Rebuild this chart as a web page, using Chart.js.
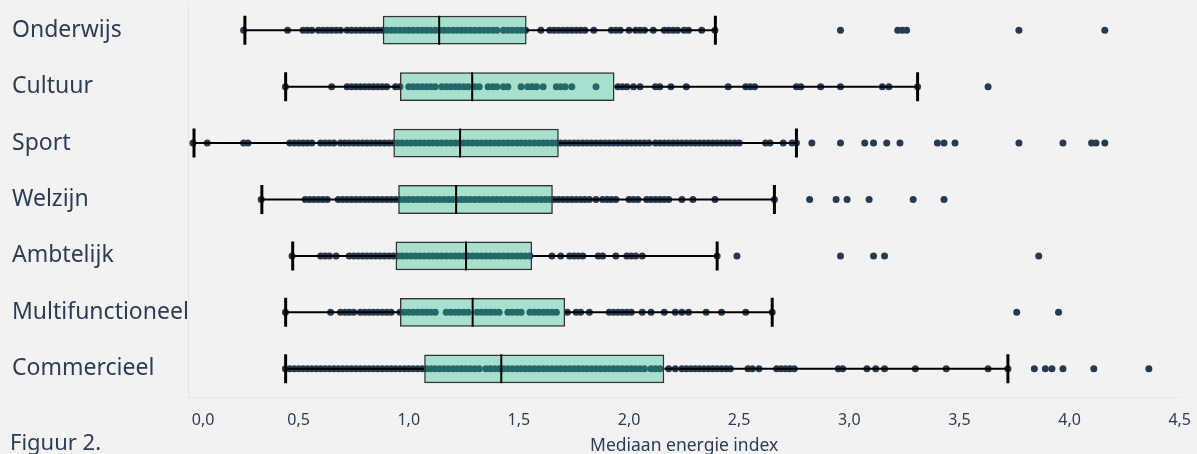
<!DOCTYPE html>
<html>
<head>
<meta charset="utf-8">
<script src="https://cdn.jsdelivr.net/npm/chart.js@4.4.0/dist/chart.umd.min.js"></script>
<style>
  html, body { margin: 0; padding: 0; background: #f2f2f2; }
  #wrap { position: relative; width: 1197px; height: 454px; overflow: hidden; }
  #figuur { position: absolute; left: 10px; top: 426px; font: 22px 'Noto Sans'; color: #2c3e55; white-space: nowrap; }
</style>
</head>
<body>
<div id="wrap">
  <canvas id="boxplot" width="1197" height="454"></canvas>
  <div id="figuur">Figuur 2.</div>
</div>
<script>
// categorieen van boven naar beneden
const categories = ['Onderwijs', 'Cultuur', 'Sport', 'Welzijn', 'Ambtelijk', 'Multifunctioneel', 'Commercieel'];

const whiskerLow  = [0.256, 0.441, 0.025, 0.333, 0.473, 0.441, 0.441];
const q1          = [0.882, 0.960, 0.930, 0.952, 0.940, 0.960, 1.070];
const median      = [1.138, 1.288, 1.233, 1.215, 1.260, 1.290, 1.420];
const q3          = [1.535, 1.934, 1.681, 1.654, 1.560, 1.710, 2.160];
const whiskerHigh = [2.392, 3.310, 2.760, 2.660, 2.400, 2.650, 3.720];

// losse punten per categorie
const pointsOnderwijs = [0.25, 0.45, 0.52, 0.54, 0.56, 0.59, 0.61, 0.63, 0.65, 0.67, 0.69, 0.72, 0.74, 0.76, 0.78, 0.80, 0.82, 0.84, 0.86, 0.88,
  0.90, 0.92, 0.94, 0.96, 0.98, 1.00, 1.02, 1.04, 1.06, 1.08, 1.10, 1.12, 1.14, 1.16, 1.18, 1.20, 1.22, 1.24, 1.26, 1.28, 1.30, 1.32, 1.34, 1.36, 1.38, 1.40,
  1.43, 1.45, 1.47, 1.49, 1.51, 1.53, 1.60, 1.64, 1.66, 1.68, 1.70, 1.72, 1.74, 1.76, 1.78, 1.80, 1.84, 1.92, 1.94, 1.96, 2.00, 2.03, 2.05, 2.07, 2.11,
  2.16, 2.18, 2.20, 2.22, 2.25, 2.27, 2.33, 2.39, 2.96, 3.22, 3.24, 3.26, 3.77, 4.16];
const pointsCultuur = [0.44, 0.65, 0.72, 0.74, 0.76, 0.78, 0.80, 0.82, 0.84, 0.86, 0.88, 0.90, 0.94, 0.96, 1.00, 1.02, 1.04, 1.06, 1.08, 1.10, 1.12,
  1.15, 1.17, 1.19, 1.21, 1.23, 1.25, 1.27, 1.30, 1.32, 1.36, 1.38, 1.40, 1.43, 1.45, 1.51, 1.54, 1.56, 1.58, 1.61, 1.67, 1.69, 1.71, 1.74, 1.85,
  1.95, 1.97, 1.99, 2.02, 2.05, 2.12, 2.14, 2.19, 2.26, 2.45, 2.53, 2.55, 2.57, 2.76, 2.78, 2.87, 2.96, 3.15, 3.18, 3.31, 3.63];
const pointsSport = [0.02, 0.085, 0.25, 0.27, 0.46, 0.48, 0.50, 0.52, 0.54, 0.56, 0.60, 0.62, 0.64, 0.66,
  0.69, 0.71, 0.73, 0.75, 0.77, 0.79, 0.81, 0.83, 0.85, 0.87, 0.89, 0.91, 0.93,
  0.95, 0.97, 0.99, 1.01, 1.03, 1.05, 1.07, 1.09, 1.11, 1.13, 1.15, 1.17, 1.19, 1.21, 1.23, 1.25, 1.27, 1.29, 1.31, 1.33, 1.35, 1.37, 1.39,
  1.41, 1.43, 1.45, 1.47, 1.49, 1.51, 1.53, 1.55, 1.57, 1.59, 1.61, 1.63, 1.65, 1.67,
  1.69, 1.71, 1.73, 1.75, 1.77, 1.79, 1.81, 1.83, 1.85, 1.87, 1.89, 1.91, 1.93, 1.95, 1.97, 1.99, 2.01, 2.03, 2.05, 2.07, 2.09,
  2.12, 2.14, 2.16, 2.18, 2.20, 2.22, 2.24, 2.26, 2.28, 2.30, 2.32, 2.34, 2.36, 2.38, 2.40, 2.42, 2.44, 2.46, 2.48, 2.50,
  2.62, 2.64, 2.70, 2.74, 2.76, 2.83, 2.96, 3.07, 3.11, 3.17, 3.23, 3.40, 3.43, 3.48, 3.77, 3.97, 4.10, 4.12, 4.16];
const pointsWelzijn = [0.33, 0.53, 0.55, 0.57, 0.59, 0.61, 0.63, 0.68, 0.70, 0.72, 0.74, 0.76, 0.78, 0.80, 0.82, 0.84, 0.86, 0.88, 0.90, 0.92, 0.94, 0.96,
  0.98, 1.00, 1.02, 1.04, 1.06, 1.08, 1.10, 1.12, 1.14, 1.16, 1.18, 1.20, 1.22, 1.24, 1.26, 1.28, 1.30, 1.32, 1.34, 1.36, 1.38, 1.40,
  1.42, 1.44, 1.46, 1.48, 1.50, 1.52, 1.54, 1.56, 1.58, 1.60, 1.62, 1.64,
  1.66, 1.68, 1.70, 1.72, 1.74, 1.76, 1.78, 1.80, 1.82, 1.85, 1.88, 1.90, 1.92, 1.94, 2.00, 2.02, 2.04, 2.08, 2.10, 2.12, 2.14, 2.16, 2.18,
  2.24, 2.29, 2.39, 2.66, 2.82, 2.94, 2.99, 3.09, 3.29, 3.43];
const pointsAmbtelijk = [0.47, 0.60, 0.62, 0.64, 0.67, 0.73, 0.75, 0.77, 0.79, 0.81, 0.83, 0.85, 0.87, 0.89, 0.91, 0.93,
  0.95, 0.97, 0.99, 1.01, 1.03, 1.05, 1.07, 1.09, 1.11, 1.13, 1.15, 1.17, 1.19, 1.21, 1.23, 1.25, 1.27, 1.29, 1.31, 1.33, 1.35, 1.37, 1.39,
  1.41, 1.43, 1.45, 1.47, 1.49, 1.51, 1.53, 1.55,
  1.65, 1.69, 1.73, 1.75, 1.77, 1.79, 1.86, 1.88, 1.94, 1.99, 2.01, 2.03, 2.06, 2.40, 2.49, 2.96, 3.11, 3.16, 3.86];
const pointsMultifunctioneel = [0.44, 0.645, 0.69, 0.71, 0.73, 0.75, 0.78, 0.80, 0.82, 0.84, 0.86, 0.88, 0.90, 0.92,
  0.96, 0.98, 1.00, 1.02, 1.04, 1.06, 1.08, 1.10, 1.12, 1.17, 1.19, 1.21, 1.23, 1.25, 1.27, 1.31, 1.33, 1.35, 1.37, 1.39, 1.41,
  1.45, 1.47, 1.49, 1.51, 1.55, 1.57, 1.59, 1.61, 1.63, 1.65, 1.67, 1.72,
  1.76, 1.78, 1.82, 1.91, 1.93, 1.95, 1.97, 1.99, 2.01, 2.06, 2.10, 2.16, 2.21, 2.24, 2.27, 2.35, 2.42, 2.53, 2.65, 3.76, 3.95];
const pointsCommercieel = [0.44, 0.46, 0.48, 0.50, 0.52, 0.54, 0.56, 0.58, 0.60, 0.62, 0.64, 0.66, 0.68, 0.70, 0.72, 0.74, 0.76, 0.78, 0.80,
  0.82, 0.84, 0.86, 0.88, 0.90, 0.92, 0.94, 0.96, 0.98, 1.00, 1.02, 1.04, 1.06, 1.08, 1.10, 1.12, 1.14, 1.16, 1.18, 1.20, 1.22, 1.24,
  1.26, 1.28, 1.30, 1.32, 1.35, 1.37, 1.39, 1.41, 1.43, 1.45, 1.47, 1.49, 1.51, 1.53, 1.55,
  1.57, 1.59, 1.61, 1.63, 1.65, 1.67, 1.69, 1.71, 1.73, 1.75, 1.77, 1.79, 1.81, 1.83, 1.85, 1.87, 1.89, 1.91, 1.93, 1.95, 1.97, 1.99,
  2.01, 2.03, 2.05, 2.07, 2.10, 2.12, 2.14, 2.18, 2.21, 2.24, 2.26, 2.28, 2.30, 2.32, 2.34, 2.36, 2.38, 2.40, 2.42, 2.44, 2.46,
  2.54, 2.56, 2.59, 2.67, 2.69, 2.71, 2.73, 2.75, 2.95, 2.97, 3.08, 3.12, 3.16, 3.30, 3.44, 3.63, 3.72, 3.84, 3.89, 3.92, 3.97, 4.11, 4.36];

const pointSets = [pointsOnderwijs, pointsCultuur, pointsSport, pointsWelzijn, pointsAmbtelijk, pointsMultifunctioneel, pointsCommercieel];

const textColor = '#2c3e55';
Chart.defaults.font.family = "'Noto Sans', sans-serif";
Chart.defaults.color = textColor;

// punten omzetten naar {x, y}
const pointData = [];
pointSets.forEach((vals, i) => {
  vals.forEach(v => pointData.push({ x: v, y: categories[i] }));
});

// whisker lijnen: laag -> q1 en q3 -> hoog, met een gat ertussen
const whiskerData = [];
categories.forEach((c, i) => {
  whiskerData.push({ x: whiskerLow[i], y: c }, { x: q1[i], y: c }, { x: null, y: c });
  whiskerData.push({ x: q3[i], y: c }, { x: whiskerHigh[i], y: c }, { x: null, y: c });
});

const capData = [];
categories.forEach((c, i) => {
  capData.push({ x: whiskerLow[i], y: c }, { x: whiskerHigh[i], y: c });
});

const medianData = categories.map((c, i) => ({ x: median[i], y: c }));
const boxData = categories.map((c, i) => [q1[i], q3[i]]);

new Chart(document.getElementById('boxplot'), {
  type: 'bar',
  data: {
    labels: categories,
    datasets: [
      {
        type: 'scatter',
        data: capData,
        pointStyle: 'line',
        pointRotation: 90,
        pointRadius: 14.5,
        pointHoverRadius: 14.5,
        pointBorderWidth: 3,
        pointBorderColor: '#000',
        order: 0
      },
      {
        type: 'scatter',
        data: medianData,
        pointStyle: 'line',
        pointRotation: 90,
        pointRadius: 14.5,
        pointHoverRadius: 14.5,
        pointBorderWidth: 2,
        pointBorderColor: '#000',
        order: 1
      },
      {
        type: 'bar',
        indexAxis: 'y',
        data: boxData,
        backgroundColor: 'rgba(31, 191, 145, 0.35)',
        borderColor: '#333',
        borderWidth: 1.5,
        borderSkipped: false,
        barPercentage: 0.51,
        categoryPercentage: 1,
        order: 2
      },
      {
        type: 'scatter',
        data: whiskerData,
        showLine: true,
        spanGaps: false,
        borderColor: '#000',
        borderWidth: 2,
        pointRadius: 0,
        pointHoverRadius: 0,
        order: 3
      },
      {
        type: 'scatter',
        data: pointData,
        pointRadius: 3.5,
        pointHoverRadius: 3.5,
        pointBackgroundColor: '#263b53',
        pointBorderWidth: 0,
        order: 4
      }
    ]
  },
  options: {
    responsive: false,
    animation: false,
    events: [],
    layout: { autoPadding: false, padding: { left: 12, right: 14, top: 2, bottom: 0 } },
    plugins: {
      legend: { display: false },
      tooltip: { enabled: false }
    },
    scales: {
      x: {
        type: 'linear',
        min: 0,
        max: 4.5,
        offset: false,
        grid: { display: false, offset: false },
        border: { display: true, color: '#e6e6e6', width: 1 },
        ticks: {
          stepSize: 0.5,
          padding: 6,
          color: textColor,
          font: { size: 16 },
          maxRotation: 0,
          callback: v => (v === 0 ? '       ' : '') + v.toFixed(1).replace('.', ',')
        },
        title: {
          display: true,
          text: 'Mediaan energie index',
          color: textColor,
          font: { size: 17.5, lineHeight: 1 },
          padding: { top: 0, bottom: -1 }
        },
        afterFit(scale) { scale.height = 57; }
      },
      y: {
        type: 'category',
        offset: true,
        grid: { display: false, offset: true },
        border: { display: true, color: '#e6e6e6', width: 1 },
        ticks: {
          color: textColor,
          font: { size: 23, lineHeight: 0.05 },
          crossAlign: 'far',
          padding: 0
        },
        afterFit(scale) { scale.width = 176.5; }
      }
    }
  }
});
</script>
</body>
</html>
